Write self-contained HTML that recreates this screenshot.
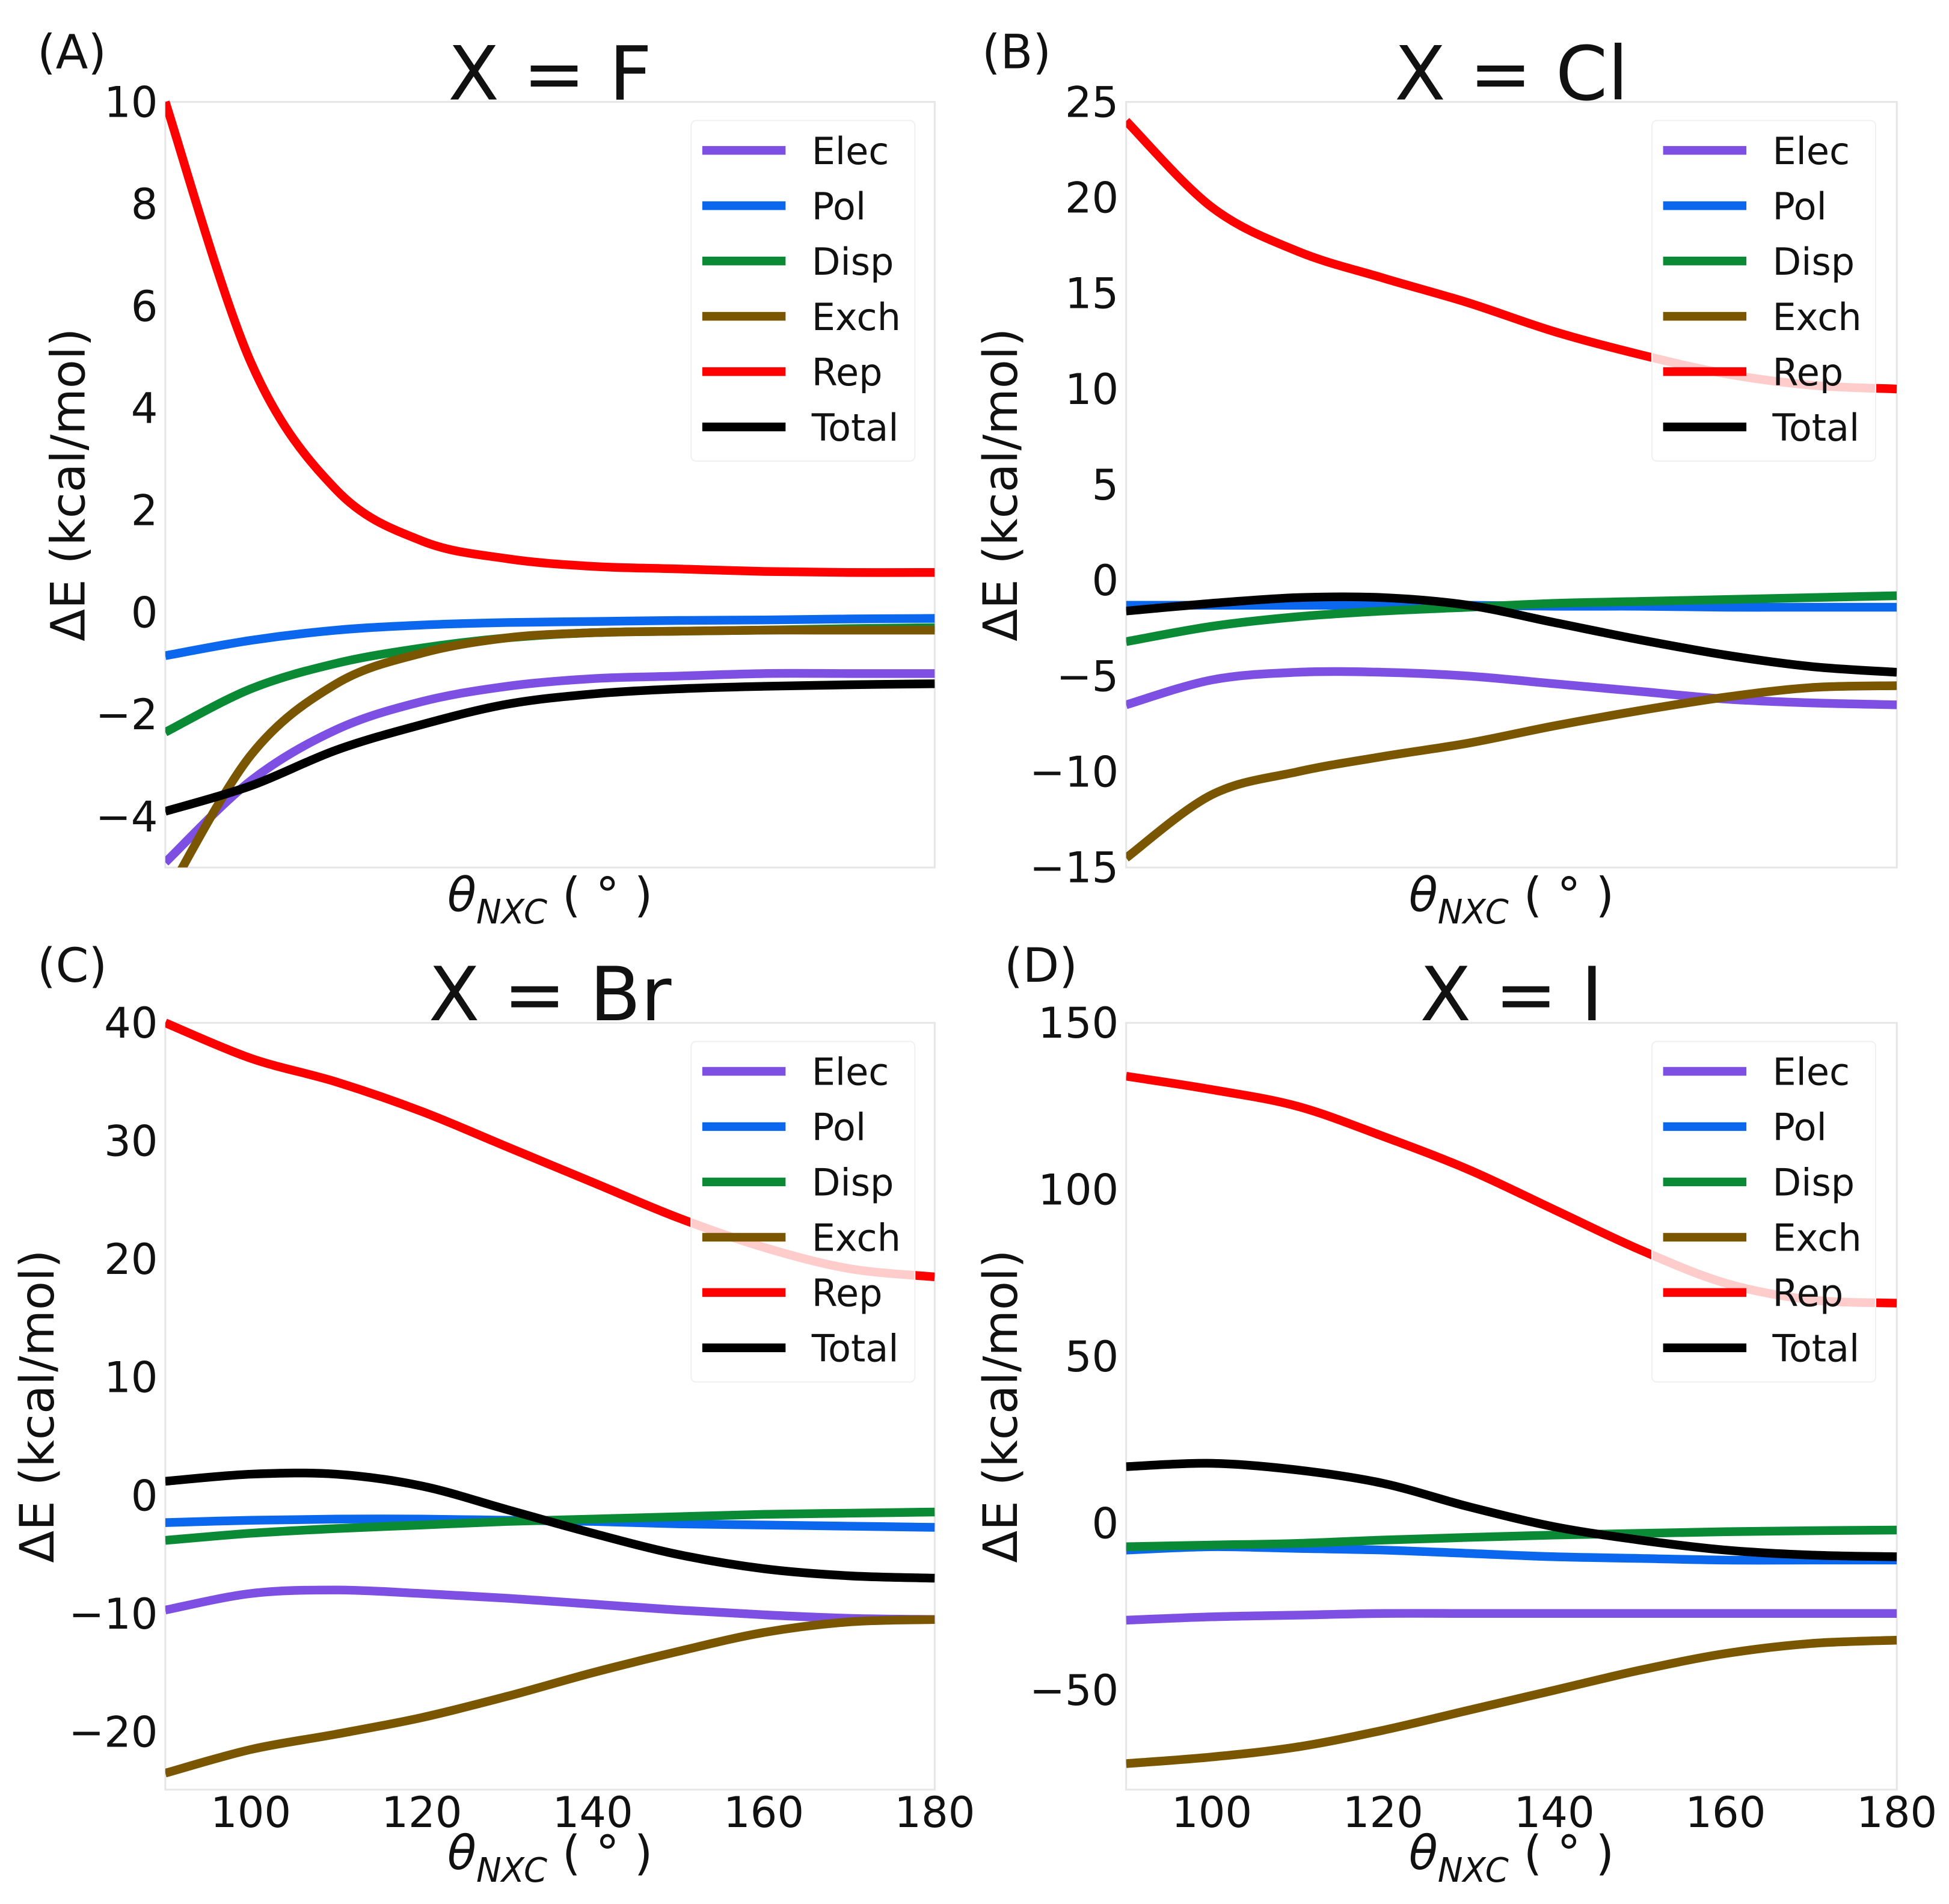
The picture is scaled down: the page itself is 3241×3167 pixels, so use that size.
<!DOCTYPE html>
<html><head><meta charset="utf-8"><style>
html,body{margin:0;padding:0;background:#fff}
svg{display:block}
text{font-family:"DejaVu Sans","Liberation Sans",sans-serif;fill:#111}
</style></head><body>
<svg id="fig" width="3241" height="3167" viewBox="0 0 1568 1532" preserveAspectRatio="none" xmlns="http://www.w3.org/2000/svg"></svg>
<script>
const xs = [90,100,110,120,130,140,150,160,170,180];
const seriesNames = ["Elec","Pol","Disp","Exch","Rep","Total"];
const colors = {Elec:"#7d50e3",Pol:"#0a67ee",Disp:"#0a8a35",Exch:"#7a5600",Rep:"#ff0000",Total:"#000000"};
// Panel A (X = F)
const aElec  = [-4.9,-3.3,-2.3,-1.75,-1.45,-1.3,-1.25,-1.2,-1.2,-1.2];
const aPol   = [-0.85,-0.55,-0.35,-0.25,-0.2,-0.18,-0.16,-0.15,-0.13,-0.12];
const aDisp  = [-2.35,-1.5,-1.0,-0.7,-0.5,-0.4,-0.37,-0.35,-0.32,-0.3];
const aExch  = [-5.6,-2.8,-1.4,-0.8,-0.5,-0.4,-0.37,-0.35,-0.35,-0.35];
const aRep   = [10,4.9,2.4,1.4,1.05,0.9,0.85,0.8,0.78,0.78];
const aTotal = [-3.9,-3.4,-2.7,-2.2,-1.8,-1.6,-1.5,-1.45,-1.42,-1.4];
// Panel B (X = Cl)
const bElec  = [-6.5,-5.2,-4.8,-4.8,-5.0,-5.4,-5.8,-6.2,-6.4,-6.5];
const bPol   = [-1.3,-1.3,-1.3,-1.3,-1.3,-1.35,-1.35,-1.4,-1.4,-1.4];
const bDisp  = [-3.2,-2.4,-1.9,-1.6,-1.4,-1.2,-1.1,-1.0,-0.9,-0.8];
const bExch  = [-14.5,-11.2,-10.0,-9.2,-8.5,-7.6,-6.8,-6.1,-5.6,-5.5];
const bRep   = [24,19.5,17.2,15.8,14.5,13,11.8,10.8,10.2,10];
const bTotal = [-1.6,-1.2,-0.9,-0.9,-1.3,-2.2,-3.1,-3.9,-4.5,-4.8];
// Panel C (X = Br)
const cElec  = [-9.7,-8.3,-8.0,-8.3,-8.7,-9.2,-9.7,-10.1,-10.4,-10.5];
const cPol   = [-2.3,-2.1,-2.0,-2.0,-2.1,-2.2,-2.4,-2.5,-2.6,-2.7];
const cDisp  = [-3.8,-3.2,-2.8,-2.5,-2.2,-2.0,-1.8,-1.6,-1.5,-1.4];
const cExch  = [-23.5,-21.5,-20.2,-18.8,-17,-15,-13.2,-11.6,-10.7,-10.5];
const cRep   = [40,37,35,32.5,29.5,26.5,23.5,21,19.2,18.5];
const cTotal = [1.2,1.8,1.8,0.8,-1.2,-3.2,-5,-6.2,-6.8,-7];
// Panel D (X = I)
const dElec  = [-29,-28,-27.5,-27,-27,-27,-27,-27,-27,-27];
const dPol   = [-8,-7,-7.5,-8,-9,-10,-10.5,-11,-11,-11];
const dDisp  = [-7,-6.5,-6,-5,-4.2,-3.5,-3,-2.5,-2.2,-2];
const dExch  = [-72,-70,-67,-62,-56,-50,-44,-39,-36,-35];
const dRep   = [134,130,125,116,106,94,82,72,67,66];
const dTotal = [17,18,16,12,5,-1,-5,-8,-9.5,-10];

const aTicks = [-4,-2,0,2,4,6,8,10];
const bTicks = [-15,-10,-5,0,5,10,15,20,25];
const cTicks = [-20,-10,0,10,20,30,40];
const dTicks = [-50,0,50,100,150];
const xTicks = [100,120,140,160,180];

const NS="http://www.w3.org/2000/svg";
const svg=document.getElementById('fig');
function mk(tag,attrs,parent){const e=document.createElementNS(NS,tag);for(const k in attrs)e.setAttribute(k,attrs[k]);(parent||svg).appendChild(e);return e;}

const panels=[
 {id:"a",label:"(A)",title:"X = F",x0:133,x1:752,y0:82,y1:698,ymin:-5,ymax:10,ticks:aTicks,xt:false,data:[aElec,aPol,aDisp,aExch,aRep,aTotal],ylx:55,lblx:30,lbly:55},
 {id:"b",label:"(B)",title:"X = Cl",x0:906,x1:1526,y0:82,y1:698,ymin:-15,ymax:25,ticks:bTicks,xt:false,data:[bElec,bPol,bDisp,bExch,bRep,bTotal],ylx:805,lblx:790,lbly:55},
 {id:"c",label:"(C)",title:"X = Br",x0:133,x1:752,y0:823,y1:1440,ymin:-24.9,ymax:40,ticks:cTicks,xt:true,data:[cElec,cPol,cDisp,cExch,cRep,cTotal],ylx:30,lblx:30,lbly:790},
 {id:"d",label:"(D)",title:"X = I",x0:906,x1:1526,y0:823,y1:1440,ymin:-79.8,ymax:150,ticks:dTicks,xt:true,data:[dElec,dPol,dDisp,dExch,dRep,dTotal],ylx:805,lblx:808,lbly:790}
];

function pathFor(pts){
 let d="M"+pts[0][0]+","+pts[0][1];
 for(let i=0;i<pts.length-1;i++){
  const p0=pts[Math.max(0,i-1)],p1=pts[i],p2=pts[i+1],p3=pts[Math.min(pts.length-1,i+2)];
  const c1=[p1[0]+(p2[0]-p0[0])/6,p1[1]+(p2[1]-p0[1])/6];
  const c2=[p2[0]-(p3[0]-p1[0])/6,p2[1]-(p3[1]-p1[1])/6];
  d+=" C"+c1[0]+","+c1[1]+" "+c2[0]+","+c2[1]+" "+p2[0]+","+p2[1];
 }
 return d;
}

panels.forEach(p=>{
 const g=mk('g',{});
 
 
 const sx=v=>p.x0+(v-90)/(180-90)*(p.x1-p.x0);
 const sy=v=>p.y1-(v-p.ymin)/(p.ymax-p.ymin)*(p.y1-p.y0);
 const clip=mk('clipPath',{id:'clip-'+p.id},g);
 mk('rect',{x:p.x0,y:p.y0-4,width:p.x1-p.x0,height:p.y1-p.y0+4},clip);
 const frame=mk('rect',{x:p.x0,y:p.y0,width:p.x1-p.x0,height:p.y1-p.y0,fill:'none',stroke:'#e6e6e6','stroke-width':1.5},g);
 
 
 p.ticks.forEach(t=>{
  const tx=mk('text',{x:p.x0-6,y:sy(t)+12,'text-anchor':'end','font-size':34},g);
  tx.textContent=(t<0?"\u2212"+(-t):String(t));
  
  
 });
 if(p.xt){xTicks.forEach(t=>{
  const tx=mk('text',{x:sx(t),y:p.y1+30,'text-anchor':'middle','font-size':34},g);
  tx.textContent=String(t);
  
  
 });}
 const lg=mk('g',{'clip-path':'url(#clip-'+p.id+')'},g);
 p.data.forEach((arr,i)=>{
  const pts=xs.map((x,j)=>[sx(x),sy(arr[j])]);
  const pa=mk('path',{d:pathFor(pts),fill:'none',stroke:colors[seriesNames[i]],'stroke-width':7,'stroke-linecap':'butt'},lg);
  
  
 });
 const lx=p.x0+423, ly=p.y0+15;
 const leg=mk('g',{},g);
 
 
 mk('rect',{x:lx,y:ly,width:180,height:274,rx:4,fill:'#fff','fill-opacity':0.8,stroke:'#f0f0f0','stroke-width':1},leg);
 seriesNames.forEach((n,i)=>{
  const yy=ly+24+i*44.5;
  const ln=mk('line',{x1:lx+9,x2:lx+76,y1:yy,y2:yy,stroke:colors[n],'stroke-width':7},leg);
  
  
  const tx=mk('text',{x:lx+97,y:yy+11,'font-size':30},leg);
  tx.textContent=n;
  
  
 });
 const ti=mk('text',{x:(p.x0+p.x1)/2,y:p.y0-2,'text-anchor':'middle','font-size':60},g);
 ti.textContent=p.title;
 
 
 const la=mk('text',{x:p.lblx,y:p.lbly,'font-size':38},g);
 la.textContent=p.label;
 
 
 const cy=(p.y0+p.y1)/2;
 const yl=mk('text',{x:p.ylx,y:cy,'text-anchor':'middle','font-size':38,transform:'rotate(-90 '+p.ylx+' '+cy+')'},g);
 yl.setAttribute('dy','13');
 yl.textContent="\u0394E (kcal/mol)";
 
 
 const xl=mk('text',{x:(p.x0+p.x1)/2,y:p.y1+(p.xt?64:35),'text-anchor':'middle','font-size':38},g);
 xl.innerHTML='<tspan font-style="italic">\u03B8</tspan><tspan font-style="italic" font-size="27" dy="10">NXC</tspan><tspan dy="-10"> ( \u00B0 )</tspan>';
 
 
});
</script>
</body></html>
